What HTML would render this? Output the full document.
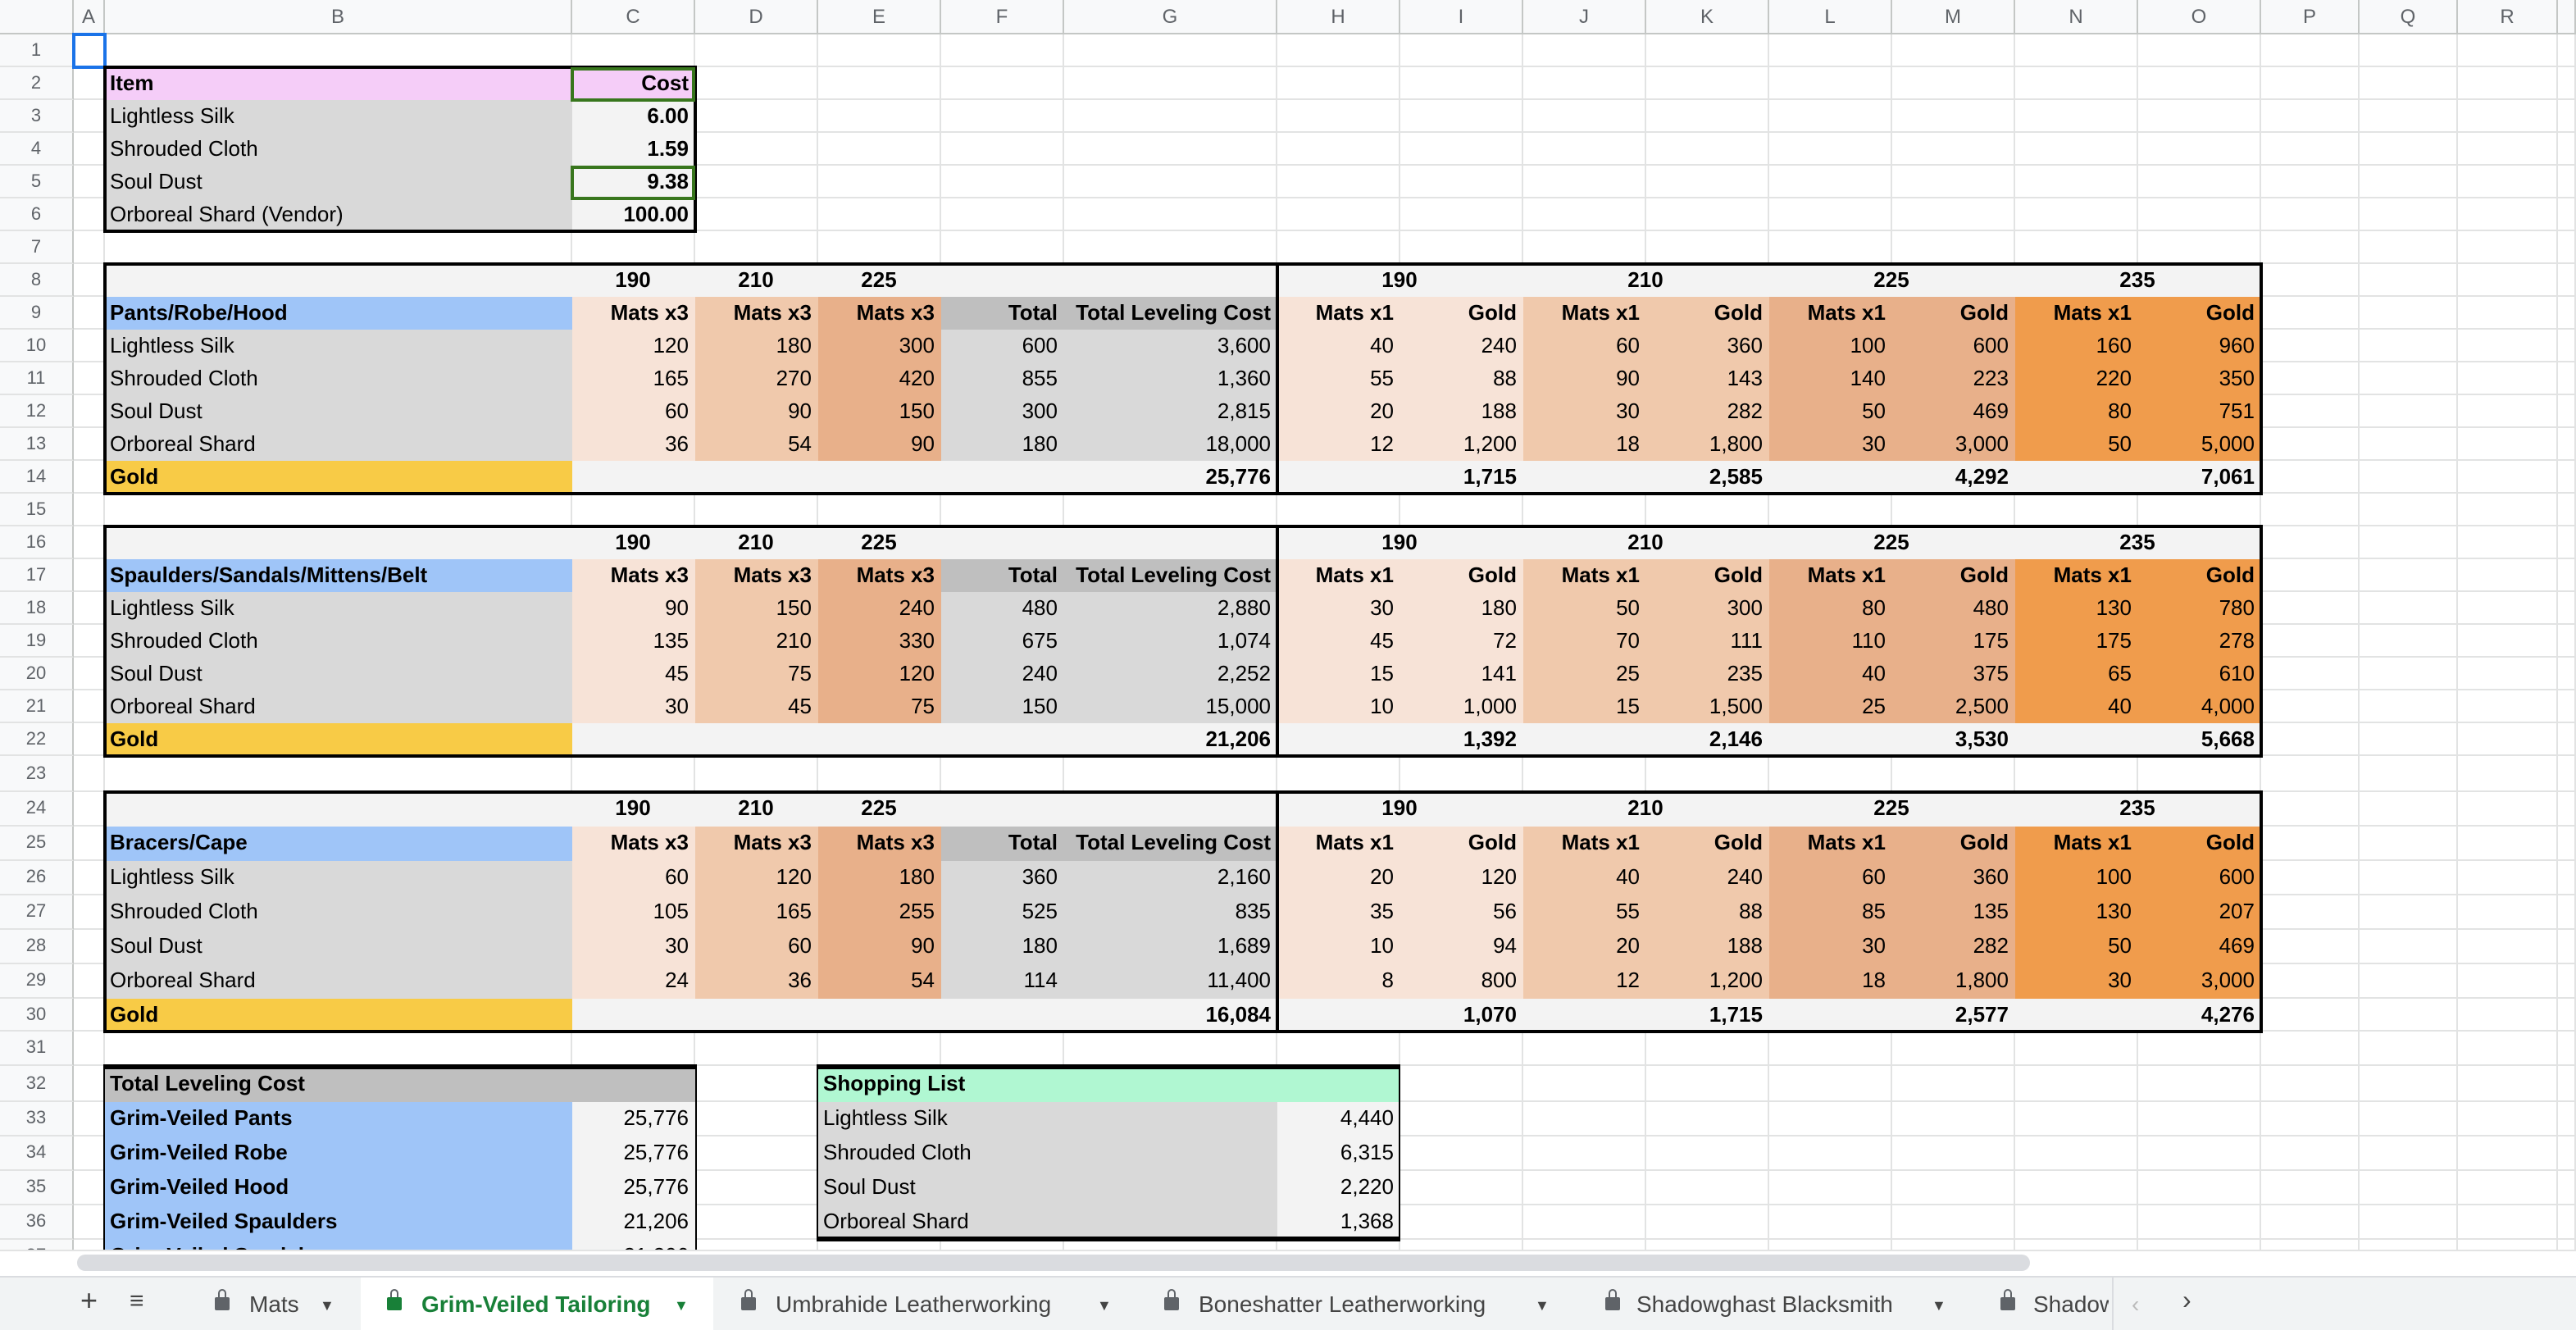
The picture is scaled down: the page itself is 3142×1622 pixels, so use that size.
<!DOCTYPE html>
<html><head><meta charset="utf-8">
<style>
html,body{margin:0;padding:0;width:3142px;height:1622px;overflow:hidden;background:#fff}
#w{position:absolute;left:0;top:0;width:1571px;height:811px;transform:scale(2);transform-origin:0 0;font-family:"Liberation Sans",sans-serif;overflow:hidden}
#grid{position:absolute;left:0;top:0;width:1571px;height:762px;overflow:hidden;background:#fff}
table{border-collapse:separate;border-spacing:0;table-layout:fixed;font-size:13px;color:#000}
td{border-right:1px solid #e2e3e3;border-bottom:1px solid #e2e3e3;padding:0 3px;white-space:nowrap;overflow:hidden;height:20px;line-height:18px;box-sizing:border-box}
tr.h td{background:#f8f9fa;color:#5f6368;text-align:center;font-size:12px;border-color:#c4c7c5;height:21px}
tr.s td{height:21px}
tr.s22 td{height:22px}
td.rh{background:#f8f9fa;color:#5f6368;text-align:center;font-size:11px;border-right-color:#c4c7c5;padding:0}
.r{text-align:right}.c{text-align:center}.bd{font-weight:bold}
.b{background:#d9d9d9;border-color:transparent}
.v{background:#f3f3f3;border-color:transparent}
.hd{background:#f3f3f3;border-color:transparent}
.p1{background:#f7e3d7;border-color:transparent}
.p2{background:#f0c9ac;border-color:transparent}
.p3{background:#e8b08a;border-color:transparent}
.p4{background:#f09c4c;border-color:transparent}
.t{background:#bfbfbf;border-color:transparent}
.g{background:#d9d9d9;border-color:transparent}
.gold{background:#f8cb46;border-color:transparent}
.blue{background:#9fc5f8;border-color:transparent}
.pink{background:#f5cdf8;border-color:transparent}
.grn{background:#b0f7d2;border-color:transparent}
.box{position:absolute;border:2px solid #000;box-sizing:border-box;pointer-events:none}
#tabs{position:absolute;left:0;top:778px;width:1571px;height:33px;background:#f1f3f4;border-top:1px solid #dadce0;font-size:14px;color:#444}
#tabs span{position:absolute;top:8px;white-space:nowrap}
.lock{display:inline-block;width:9px;height:8px;background:#5f6368;border-radius:1px;position:absolute;top:12px}
.lock:before{content:"";position:absolute;left:1.5px;top:-5px;width:3px;height:4px;border:1.5px solid #5f6368;border-bottom:none;border-radius:3px 3px 0 0}
</style></head><body><div id="w">
<div id="grid">
<table>
<colgroup><col style="width:45px"><col style="width:19px"><col style="width:285px"><col style="width:75px"><col style="width:75px"><col style="width:75px"><col style="width:75px"><col style="width:130px"><col style="width:75px"><col style="width:75px"><col style="width:75px"><col style="width:75px"><col style="width:75px"><col style="width:75px"><col style="width:75px"><col style="width:75px"><col style="width:60px"><col style="width:60px"><col style="width:61px"><col style="width:11px"></colgroup>
<tr class="h"><td></td><td>A</td><td>B</td><td>C</td><td>D</td><td>E</td><td>F</td><td>G</td><td>H</td><td>I</td><td>J</td><td>K</td><td>L</td><td>M</td><td>N</td><td>O</td><td>P</td><td>Q</td><td>R</td><td></td></tr>
<tr><td class="rh">1</td><td></td><td></td><td></td><td></td><td></td><td></td><td></td><td></td><td></td><td></td><td></td><td></td><td></td><td></td><td></td><td></td><td></td><td></td><td></td></tr>
<tr><td class="rh">2</td><td></td><td class="pink bd">Item</td><td class="pink bd r">Cost</td><td></td><td></td><td></td><td></td><td></td><td></td><td></td><td></td><td></td><td></td><td></td><td></td><td></td><td></td><td></td><td></td></tr>
<tr><td class="rh">3</td><td></td><td class="b">Lightless Silk</td><td class="v bd r">6.00</td><td></td><td></td><td></td><td></td><td></td><td></td><td></td><td></td><td></td><td></td><td></td><td></td><td></td><td></td><td></td><td></td></tr>
<tr><td class="rh">4</td><td></td><td class="b">Shrouded Cloth</td><td class="v bd r">1.59</td><td></td><td></td><td></td><td></td><td></td><td></td><td></td><td></td><td></td><td></td><td></td><td></td><td></td><td></td><td></td><td></td></tr>
<tr><td class="rh">5</td><td></td><td class="b">Soul Dust</td><td class="v bd r">9.38</td><td></td><td></td><td></td><td></td><td></td><td></td><td></td><td></td><td></td><td></td><td></td><td></td><td></td><td></td><td></td><td></td></tr>
<tr><td class="rh">6</td><td></td><td class="b">Orboreal Shard (Vendor)</td><td class="v bd r">100.00</td><td></td><td></td><td></td><td></td><td></td><td></td><td></td><td></td><td></td><td></td><td></td><td></td><td></td><td></td><td></td><td></td></tr>
<tr><td class="rh">7</td><td></td><td></td><td></td><td></td><td></td><td></td><td></td><td></td><td></td><td></td><td></td><td></td><td></td><td></td><td></td><td></td><td></td><td></td><td></td></tr>
<tr><td class="rh">8</td><td></td><td class="hd"></td><td class="hd bd c">190</td><td class="hd bd c">210</td><td class="hd bd c">225</td><td class="hd"></td><td class="hd"></td><td class="hd bd c" colspan="2">190</td><td class="hd bd c" colspan="2">210</td><td class="hd bd c" colspan="2">225</td><td class="hd bd c" colspan="2">235</td><td></td><td></td><td></td><td></td></tr>
<tr><td class="rh">9</td><td></td><td class="blue bd">Pants/Robe/Hood</td><td class="p1 bd r">Mats x3</td><td class="p2 bd r">Mats x3</td><td class="p3 bd r">Mats x3</td><td class="t bd r">Total</td><td class="t bd r">Total Leveling Cost</td><td class="p1 bd r">Mats x1</td><td class="p1 bd r">Gold</td><td class="p2 bd r">Mats x1</td><td class="p2 bd r">Gold</td><td class="p3 bd r">Mats x1</td><td class="p3 bd r">Gold</td><td class="p4 bd r">Mats x1</td><td class="p4 bd r">Gold</td><td></td><td></td><td></td><td></td></tr>
<tr><td class="rh">10</td><td></td><td class="b">Lightless Silk</td><td class="p1 r">120</td><td class="p2 r">180</td><td class="p3 r">300</td><td class="g r">600</td><td class="g r">3,600</td><td class="p1 r">40</td><td class="p1 r">240</td><td class="p2 r">60</td><td class="p2 r">360</td><td class="p3 r">100</td><td class="p3 r">600</td><td class="p4 r">160</td><td class="p4 r">960</td><td></td><td></td><td></td><td></td></tr>
<tr><td class="rh">11</td><td></td><td class="b">Shrouded Cloth</td><td class="p1 r">165</td><td class="p2 r">270</td><td class="p3 r">420</td><td class="g r">855</td><td class="g r">1,360</td><td class="p1 r">55</td><td class="p1 r">88</td><td class="p2 r">90</td><td class="p2 r">143</td><td class="p3 r">140</td><td class="p3 r">223</td><td class="p4 r">220</td><td class="p4 r">350</td><td></td><td></td><td></td><td></td></tr>
<tr><td class="rh">12</td><td></td><td class="b">Soul Dust</td><td class="p1 r">60</td><td class="p2 r">90</td><td class="p3 r">150</td><td class="g r">300</td><td class="g r">2,815</td><td class="p1 r">20</td><td class="p1 r">188</td><td class="p2 r">30</td><td class="p2 r">282</td><td class="p3 r">50</td><td class="p3 r">469</td><td class="p4 r">80</td><td class="p4 r">751</td><td></td><td></td><td></td><td></td></tr>
<tr><td class="rh">13</td><td></td><td class="b">Orboreal Shard</td><td class="p1 r">36</td><td class="p2 r">54</td><td class="p3 r">90</td><td class="g r">180</td><td class="g r">18,000</td><td class="p1 r">12</td><td class="p1 r">1,200</td><td class="p2 r">18</td><td class="p2 r">1,800</td><td class="p3 r">30</td><td class="p3 r">3,000</td><td class="p4 r">50</td><td class="p4 r">5,000</td><td></td><td></td><td></td><td></td></tr>
<tr><td class="rh">14</td><td></td><td class="gold bd">Gold</td><td class="hd"></td><td class="hd"></td><td class="hd"></td><td class="hd"></td><td class="hd bd r">25,776</td><td class="hd"></td><td class="hd bd r">1,715</td><td class="hd"></td><td class="hd bd r">2,585</td><td class="hd"></td><td class="hd bd r">4,292</td><td class="hd"></td><td class="hd bd r">7,061</td><td></td><td></td><td></td><td></td></tr>
<tr><td class="rh">15</td><td></td><td></td><td></td><td></td><td></td><td></td><td></td><td></td><td></td><td></td><td></td><td></td><td></td><td></td><td></td><td></td><td></td><td></td><td></td></tr>
<tr><td class="rh">16</td><td></td><td class="hd"></td><td class="hd bd c">190</td><td class="hd bd c">210</td><td class="hd bd c">225</td><td class="hd"></td><td class="hd"></td><td class="hd bd c" colspan="2">190</td><td class="hd bd c" colspan="2">210</td><td class="hd bd c" colspan="2">225</td><td class="hd bd c" colspan="2">235</td><td></td><td></td><td></td><td></td></tr>
<tr><td class="rh">17</td><td></td><td class="blue bd">Spaulders/Sandals/Mittens/Belt</td><td class="p1 bd r">Mats x3</td><td class="p2 bd r">Mats x3</td><td class="p3 bd r">Mats x3</td><td class="t bd r">Total</td><td class="t bd r">Total Leveling Cost</td><td class="p1 bd r">Mats x1</td><td class="p1 bd r">Gold</td><td class="p2 bd r">Mats x1</td><td class="p2 bd r">Gold</td><td class="p3 bd r">Mats x1</td><td class="p3 bd r">Gold</td><td class="p4 bd r">Mats x1</td><td class="p4 bd r">Gold</td><td></td><td></td><td></td><td></td></tr>
<tr><td class="rh">18</td><td></td><td class="b">Lightless Silk</td><td class="p1 r">90</td><td class="p2 r">150</td><td class="p3 r">240</td><td class="g r">480</td><td class="g r">2,880</td><td class="p1 r">30</td><td class="p1 r">180</td><td class="p2 r">50</td><td class="p2 r">300</td><td class="p3 r">80</td><td class="p3 r">480</td><td class="p4 r">130</td><td class="p4 r">780</td><td></td><td></td><td></td><td></td></tr>
<tr><td class="rh">19</td><td></td><td class="b">Shrouded Cloth</td><td class="p1 r">135</td><td class="p2 r">210</td><td class="p3 r">330</td><td class="g r">675</td><td class="g r">1,074</td><td class="p1 r">45</td><td class="p1 r">72</td><td class="p2 r">70</td><td class="p2 r">111</td><td class="p3 r">110</td><td class="p3 r">175</td><td class="p4 r">175</td><td class="p4 r">278</td><td></td><td></td><td></td><td></td></tr>
<tr><td class="rh">20</td><td></td><td class="b">Soul Dust</td><td class="p1 r">45</td><td class="p2 r">75</td><td class="p3 r">120</td><td class="g r">240</td><td class="g r">2,252</td><td class="p1 r">15</td><td class="p1 r">141</td><td class="p2 r">25</td><td class="p2 r">235</td><td class="p3 r">40</td><td class="p3 r">375</td><td class="p4 r">65</td><td class="p4 r">610</td><td></td><td></td><td></td><td></td></tr>
<tr><td class="rh">21</td><td></td><td class="b">Orboreal Shard</td><td class="p1 r">30</td><td class="p2 r">45</td><td class="p3 r">75</td><td class="g r">150</td><td class="g r">15,000</td><td class="p1 r">10</td><td class="p1 r">1,000</td><td class="p2 r">15</td><td class="p2 r">1,500</td><td class="p3 r">25</td><td class="p3 r">2,500</td><td class="p4 r">40</td><td class="p4 r">4,000</td><td></td><td></td><td></td><td></td></tr>
<tr><td class="rh">22</td><td></td><td class="gold bd">Gold</td><td class="hd"></td><td class="hd"></td><td class="hd"></td><td class="hd"></td><td class="hd bd r">21,206</td><td class="hd"></td><td class="hd bd r">1,392</td><td class="hd"></td><td class="hd bd r">2,146</td><td class="hd"></td><td class="hd bd r">3,530</td><td class="hd"></td><td class="hd bd r">5,668</td><td></td><td></td><td></td><td></td></tr>
<tr class="s22"><td class="rh">23</td><td></td><td></td><td></td><td></td><td></td><td></td><td></td><td></td><td></td><td></td><td></td><td></td><td></td><td></td><td></td><td></td><td></td><td></td><td></td></tr>
<tr class="s"><td class="rh">24</td><td></td><td class="hd"></td><td class="hd bd c">190</td><td class="hd bd c">210</td><td class="hd bd c">225</td><td class="hd"></td><td class="hd"></td><td class="hd bd c" colspan="2">190</td><td class="hd bd c" colspan="2">210</td><td class="hd bd c" colspan="2">225</td><td class="hd bd c" colspan="2">235</td><td></td><td></td><td></td><td></td></tr>
<tr class="s"><td class="rh">25</td><td></td><td class="blue bd">Bracers/Cape</td><td class="p1 bd r">Mats x3</td><td class="p2 bd r">Mats x3</td><td class="p3 bd r">Mats x3</td><td class="t bd r">Total</td><td class="t bd r">Total Leveling Cost</td><td class="p1 bd r">Mats x1</td><td class="p1 bd r">Gold</td><td class="p2 bd r">Mats x1</td><td class="p2 bd r">Gold</td><td class="p3 bd r">Mats x1</td><td class="p3 bd r">Gold</td><td class="p4 bd r">Mats x1</td><td class="p4 bd r">Gold</td><td></td><td></td><td></td><td></td></tr>
<tr class="s"><td class="rh">26</td><td></td><td class="b">Lightless Silk</td><td class="p1 r">60</td><td class="p2 r">120</td><td class="p3 r">180</td><td class="g r">360</td><td class="g r">2,160</td><td class="p1 r">20</td><td class="p1 r">120</td><td class="p2 r">40</td><td class="p2 r">240</td><td class="p3 r">60</td><td class="p3 r">360</td><td class="p4 r">100</td><td class="p4 r">600</td><td></td><td></td><td></td><td></td></tr>
<tr class="s"><td class="rh">27</td><td></td><td class="b">Shrouded Cloth</td><td class="p1 r">105</td><td class="p2 r">165</td><td class="p3 r">255</td><td class="g r">525</td><td class="g r">835</td><td class="p1 r">35</td><td class="p1 r">56</td><td class="p2 r">55</td><td class="p2 r">88</td><td class="p3 r">85</td><td class="p3 r">135</td><td class="p4 r">130</td><td class="p4 r">207</td><td></td><td></td><td></td><td></td></tr>
<tr class="s"><td class="rh">28</td><td></td><td class="b">Soul Dust</td><td class="p1 r">30</td><td class="p2 r">60</td><td class="p3 r">90</td><td class="g r">180</td><td class="g r">1,689</td><td class="p1 r">10</td><td class="p1 r">94</td><td class="p2 r">20</td><td class="p2 r">188</td><td class="p3 r">30</td><td class="p3 r">282</td><td class="p4 r">50</td><td class="p4 r">469</td><td></td><td></td><td></td><td></td></tr>
<tr class="s"><td class="rh">29</td><td></td><td class="b">Orboreal Shard</td><td class="p1 r">24</td><td class="p2 r">36</td><td class="p3 r">54</td><td class="g r">114</td><td class="g r">11,400</td><td class="p1 r">8</td><td class="p1 r">800</td><td class="p2 r">12</td><td class="p2 r">1,200</td><td class="p3 r">18</td><td class="p3 r">1,800</td><td class="p4 r">30</td><td class="p4 r">3,000</td><td></td><td></td><td></td><td></td></tr>
<tr><td class="rh">30</td><td></td><td class="gold bd">Gold</td><td class="hd"></td><td class="hd"></td><td class="hd"></td><td class="hd"></td><td class="hd bd r">16,084</td><td class="hd"></td><td class="hd bd r">1,070</td><td class="hd"></td><td class="hd bd r">1,715</td><td class="hd"></td><td class="hd bd r">2,577</td><td class="hd"></td><td class="hd bd r">4,276</td><td></td><td></td><td></td><td></td></tr>
<tr class="s"><td class="rh">31</td><td></td><td></td><td></td><td></td><td></td><td></td><td></td><td></td><td></td><td></td><td></td><td></td><td></td><td></td><td></td><td></td><td></td><td></td><td></td></tr>
<tr class="s22"><td class="rh">32</td><td></td><td class="t bd">Total Leveling Cost</td><td class="t"></td><td></td><td class="grn bd" colspan="4">Shopping List</td><td></td><td></td><td></td><td></td><td></td><td></td><td></td><td></td><td></td><td></td><td></td></tr>
<tr class="s"><td class="rh">33</td><td></td><td class="blue bd">Grim-Veiled Pants</td><td class="v r">25,776</td><td></td><td class="b" colspan="3">Lightless Silk</td><td class="v r">4,440</td><td></td><td></td><td></td><td></td><td></td><td></td><td></td><td></td><td></td><td></td><td></td></tr>
<tr class="s"><td class="rh">34</td><td></td><td class="blue bd">Grim-Veiled Robe</td><td class="v r">25,776</td><td></td><td class="b" colspan="3">Shrouded Cloth</td><td class="v r">6,315</td><td></td><td></td><td></td><td></td><td></td><td></td><td></td><td></td><td></td><td></td><td></td></tr>
<tr class="s"><td class="rh">35</td><td></td><td class="blue bd">Grim-Veiled Hood</td><td class="v r">25,776</td><td></td><td class="b" colspan="3">Soul Dust</td><td class="v r">2,220</td><td></td><td></td><td></td><td></td><td></td><td></td><td></td><td></td><td></td><td></td><td></td></tr>
<tr class="s"><td class="rh">36</td><td></td><td class="blue bd">Grim-Veiled Spaulders</td><td class="v r">21,206</td><td></td><td class="b" colspan="3">Orboreal Shard</td><td class="v r">1,368</td><td></td><td></td><td></td><td></td><td></td><td></td><td></td><td></td><td></td><td></td><td></td></tr>
<tr class="s"><td class="rh">37</td><td></td><td class="blue bd">Grim-Veiled Sandals</td><td class="v r">21,206</td><td></td><td></td><td></td><td></td><td></td><td></td><td></td><td></td><td></td><td></td><td></td><td></td><td></td><td></td><td></td><td></td></tr>
</table>
<div class="box" style="left:44px;top:20px;width:21px;height:22px;border-color:#1a73e8"></div>
<div class="box" style="left:63px;top:40px;width:362px;height:102px"></div>
<div class="box" style="left:348px;top:41px;width:76px;height:20.5px;border-color:#38761d"></div>
<div class="box" style="left:348px;top:101px;width:76px;height:20.5px;border-color:#38761d"></div>
<div class="box" style="left:63px;top:160px;width:717px;height:142px"></div>
<div class="box" style="left:778px;top:160px;width:602px;height:142px"></div>
<div class="box" style="left:63px;top:320px;width:717px;height:142px"></div>
<div class="box" style="left:778px;top:320px;width:602px;height:142px"></div>
<div class="box" style="left:63px;top:482px;width:717px;height:148px"></div>
<div class="box" style="left:778px;top:482px;width:602px;height:148px"></div>
<div class="box" style="left:63px;top:649px;width:362px;height:140px;border-width:3px 1.5px"></div>
<div class="box" style="left:498px;top:649px;width:356px;height:108px;border-width:3px 1.5px"></div>
</div>
<div style="position:absolute;left:0;top:762px;width:1571px;height:16px;background:#fff;border-top:1px solid #e2e3e3"></div>
<div style="position:absolute;left:47px;top:765px;width:1191px;height:10px;background:#dadce0;border-radius:5px"></div>
<div id="tabs">
<span style="left:49px;font-size:18px;top:4px">+</span>
<span style="left:79px;font-size:15px;top:6px">&#8801;</span>
<i class="lock" style="left:131px"></i><span style="left:152px">Mats</span><span style="left:195px;font-size:9px;top:12px">&#9660;</span>
<div style="position:absolute;left:220px;top:0;width:215px;height:33px;background:#fff"></div>
<i class="lock" style="left:236px;background:#188038"></i><span style="left:257px;color:#188038;font-weight:bold">Grim-Veiled Tailoring</span><span style="left:411px;font-size:9px;top:12px;color:#188038">&#9660;</span>
<i class="lock" style="left:452px"></i><span style="left:473px">Umbrahide Leatherworking</span><span style="left:669px;font-size:9px;top:12px">&#9660;</span>
<i class="lock" style="left:710px"></i><span style="left:731px">Boneshatter Leatherworking</span><span style="left:936px;font-size:9px;top:12px">&#9660;</span>
<i class="lock" style="left:979px"></i><span style="left:998px">Shadowghast Blacksmith</span><span style="left:1178px;font-size:9px;top:12px">&#9660;</span>
<i class="lock" style="left:1220px"></i><span style="left:1240px;width:46px;overflow:hidden">Shadowghast</span>
<div style="position:absolute;left:1288px;top:0;width:1px;height:33px;background:#dadce0"></div>
<span style="left:1300px;color:#bbb">&#8249;</span><span style="left:1331px;font-size:16px;top:6px">&#8250;</span>
</div>
</div></body></html>
